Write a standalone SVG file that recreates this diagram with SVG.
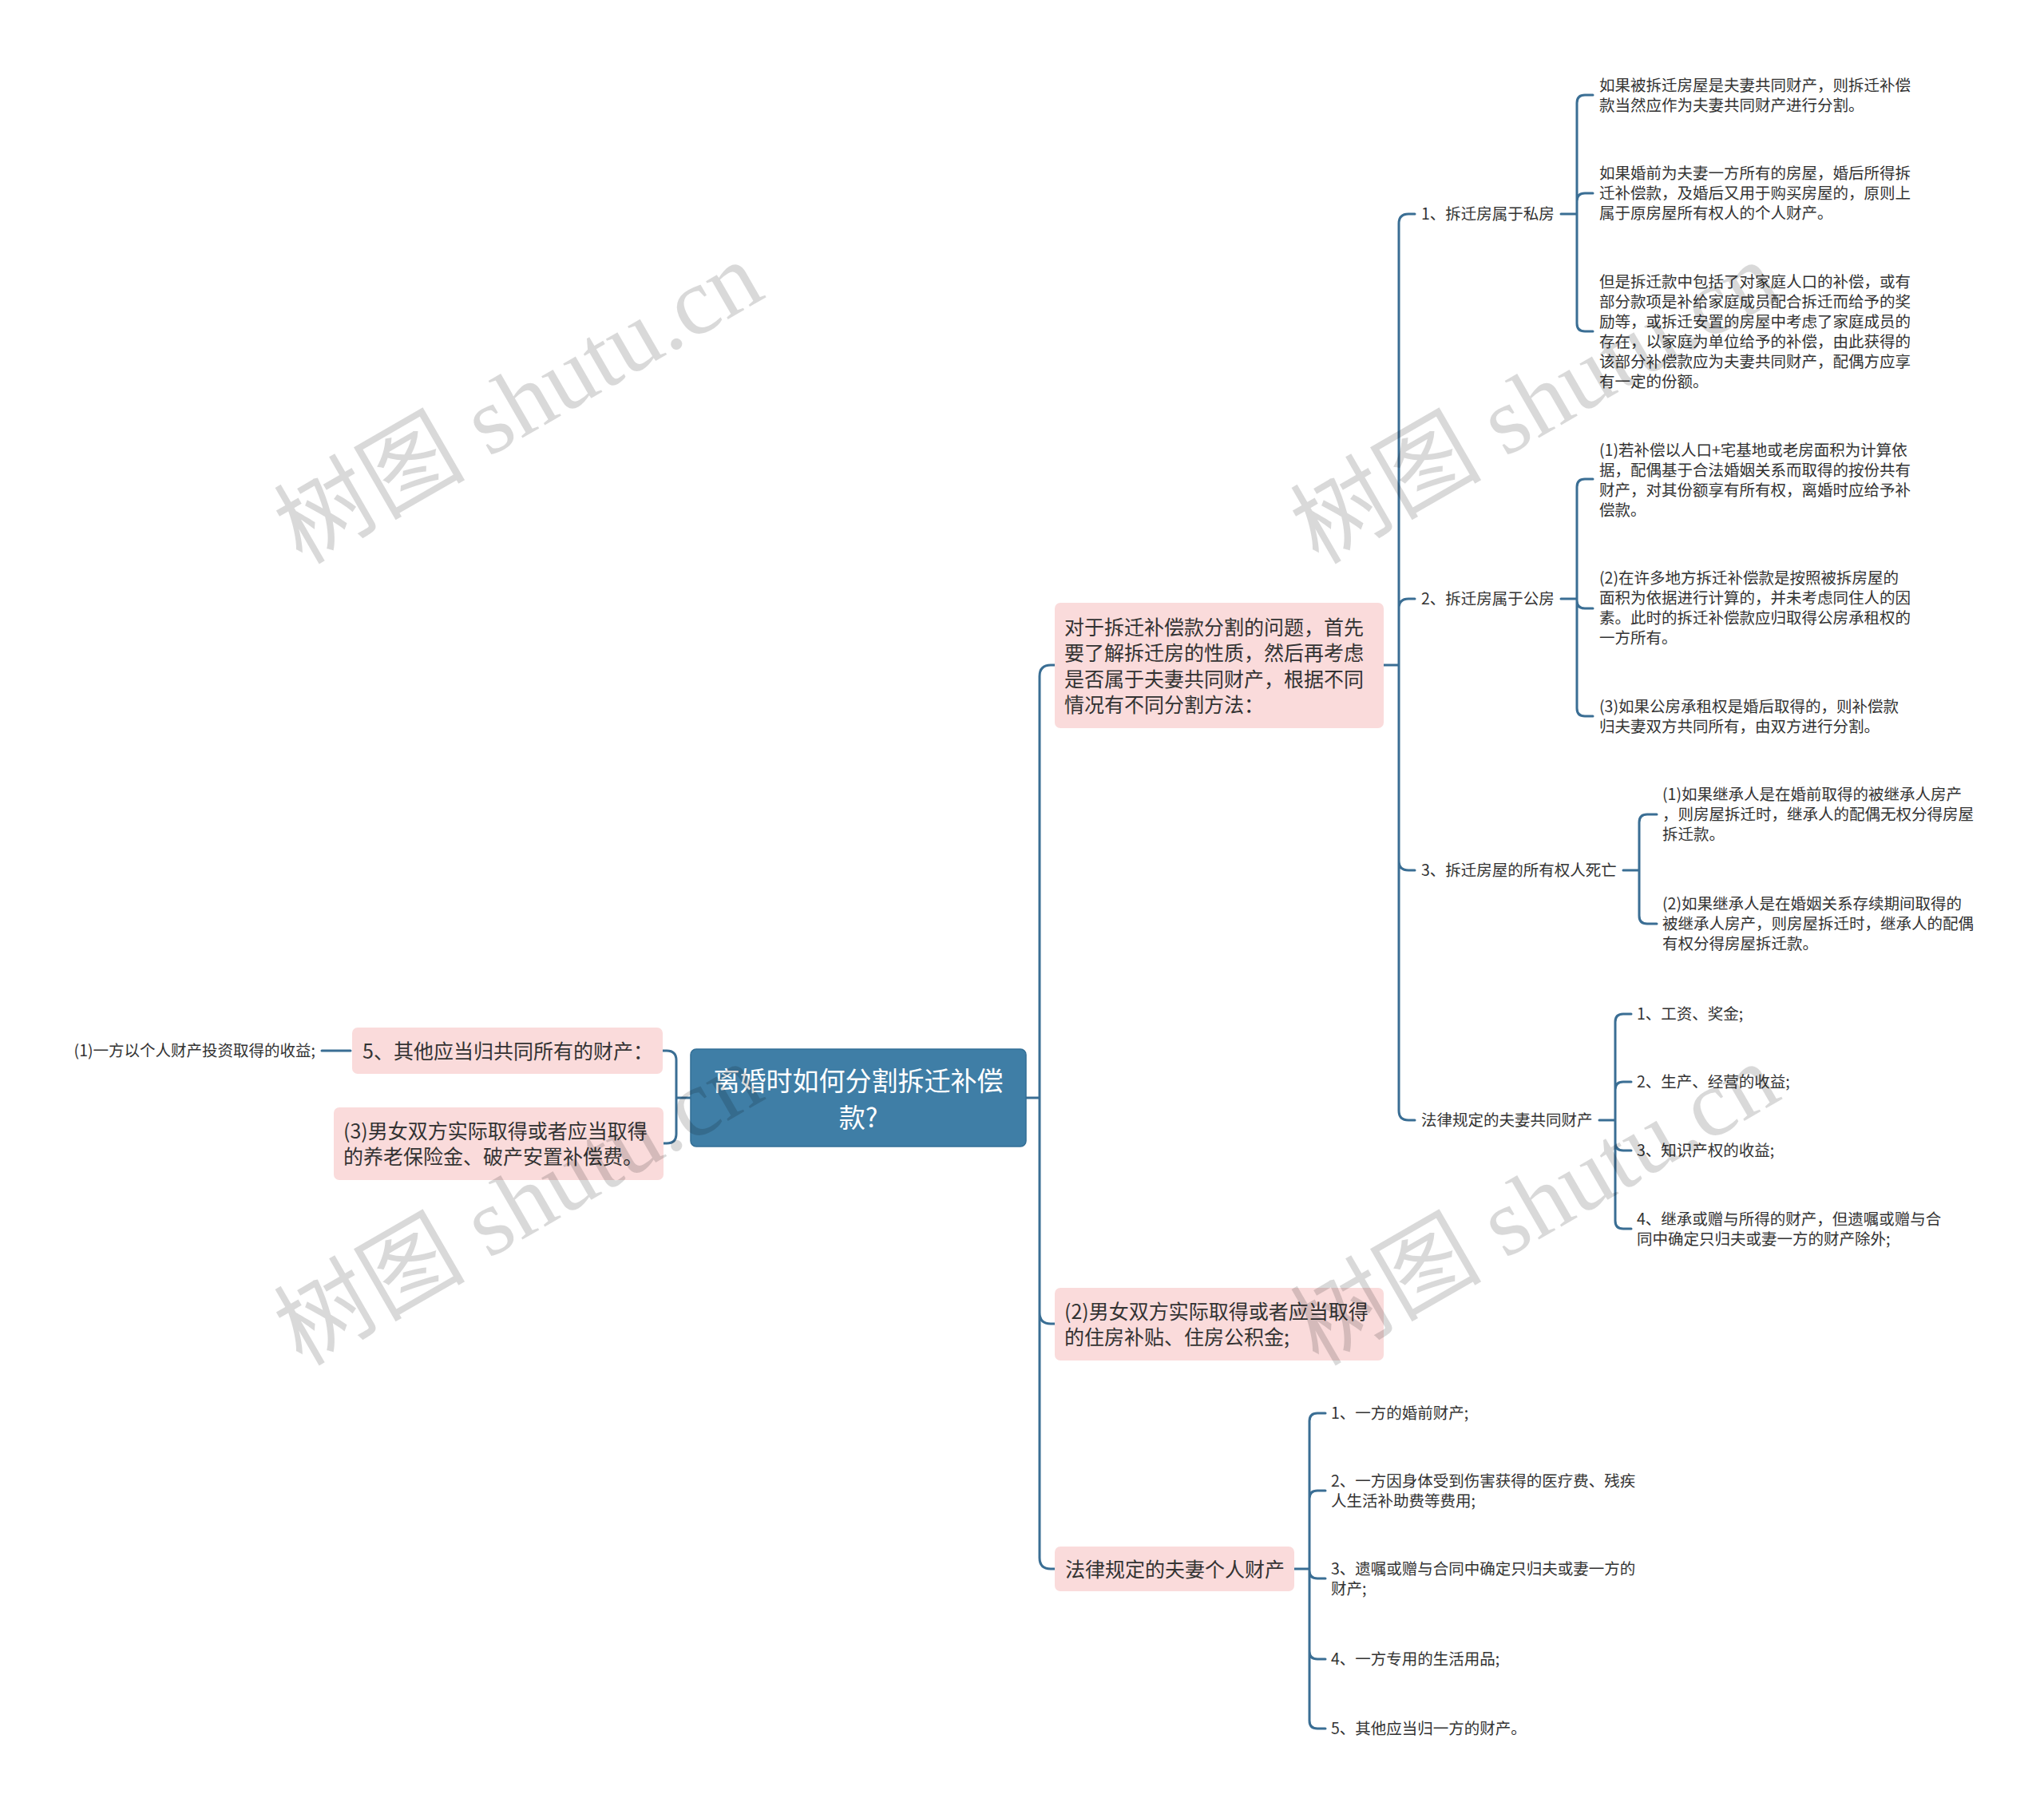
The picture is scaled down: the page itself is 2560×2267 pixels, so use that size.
<svg xmlns="http://www.w3.org/2000/svg" width="2560" height="2267" viewBox="0 0 2560 2267">
<defs>
<style>
.c{fill:none;stroke:#3a6e94;stroke-width:3;stroke-linecap:round}
.s{font-family:"Noto Sans CJK SC","Microsoft YaHei",sans-serif;font-size:19.5px;fill:#333}
.m{font-family:"Noto Sans CJK SC","Microsoft YaHei",sans-serif;font-size:25px;fill:#333}
.r{font-family:"Noto Sans CJK SC","Microsoft YaHei",sans-serif;font-size:33px;fill:#fff;text-anchor:middle}
.p{fill:#fadbdb}
.wm{font-family:"Liberation Serif","Noto Sans CJK SC",serif;font-size:120px;fill:#000;fill-opacity:0.15}
</style>
<text id="wmt" class="wm" x="0" y="0">树图 shutu.cn</text>
</defs>
<rect width="2560" height="2267" fill="#fff"/>
<g id="connectors">
<path class="c" d="M1285 1375H1302M1302 1375V847Q1302 833 1316 833H1321M1302 1375V1644Q1302 1658 1316 1658H1321M1302 1375V1951Q1302 1965 1316 1965H1321"/>
<path class="c" d="M865 1375H847M847 1375V1328Q847 1316 835 1316H830M847 1375V1420Q847 1432 835 1432H830M439 1316H403"/>
<path class="c" d="M1733 833H1752M1752 833V280Q1752 268 1764 268H1772M1752 833V762Q1752 750 1764 750H1772M1752 833V1078Q1752 1090 1764 1090H1772M1752 833V1391Q1752 1403 1764 1403H1772"/>
<path class="c" d="M1955 268H1975M1975 268V129Q1975 119 1985 119H1995M1975 268V252Q1975 242 1985 242H1995M1975 268V405Q1975 415 1985 415H1995"/>
<path class="c" d="M1955 750H1975M1975 750V610Q1975 600 1985 600H1995M1975 750V752Q1975 762 1985 762H1995M1975 750V887Q1975 897 1985 897H1995"/>
<path class="c" d="M2033 1090H2053M2053 1090V1030Q2053 1020 2063 1020H2075M2053 1090V1147Q2053 1157 2063 1157H2075"/>
<path class="c" d="M2003 1403H2023M2023 1403V1280Q2023 1270 2033 1270H2043M2023 1403V1365Q2023 1355 2033 1355H2043M2023 1403V1431Q2023 1441 2033 1441H2043M2023 1403V1529Q2023 1539 2033 1539H2043"/>
<path class="c" d="M1621 1965H1640M1640 1965V1780Q1640 1770 1650 1770H1660M1640 1965V1877Q1640 1867 1650 1867H1660M1640 1965V1967Q1640 1977 1650 1977H1660M1640 1965V2068Q1640 2078 1650 2078H1660M1640 1965V2155Q1640 2165 1650 2165H1660"/>
</g>
<g id="root">
<rect x="865" y="1314" width="420" height="122" rx="7" fill="#3f7ea6" stroke="#336f96" stroke-width="1.5"/>
<text class="r"><tspan x="1075" y="1365.5">离婚时如何分割拆迁补偿</tspan><tspan x="1075" y="1411.5">款?</tspan></text>
</g>
<g id="left1">
<rect class="p" x="441" y="1287" width="389" height="58" rx="7"/>
<text class="m" x="454" y="1325.5">5、其他应当归共同所有的财产：</text>
</g>
<g id="left1a">
<text class="s" x="395" y="1323" text-anchor="end">(1)一方以个人财产投资取得的收益;</text>
</g>
<g id="left2">
<rect class="p" x="418" y="1387" width="413" height="91" rx="7"/>
<text class="m"><tspan x="430" y="1425.75">(3)男女双方实际取得或者应当取得</tspan><tspan x="430" dy="32.5">的养老保险金、破产安置补偿费。</tspan></text>
</g>
<g id="nodeA">
<rect class="p" x="1321" y="755" width="412" height="157" rx="7"/>
<text class="m"><tspan x="1333" y="794.75">对于拆迁补偿款分割的问题，首先</tspan><tspan x="1333" dy="32.5">要了解拆迁房的性质，然后再考虑</tspan><tspan x="1333" dy="32.5">是否属于夫妻共同财产，根据不同</tspan><tspan x="1333" dy="32.5">情况有不同分割方法：</tspan></text>
</g>
<g id="nodeB">
<rect class="p" x="1321" y="1613" width="412" height="91" rx="7"/>
<text class="m"><tspan x="1333" y="1651.75">(2)男女双方实际取得或者应当取得</tspan><tspan x="1333" dy="32.5">的住房补贴、住房公积金;</tspan></text>
</g>
<g id="nodeC">
<rect class="p" x="1321" y="1937" width="300" height="56" rx="7"/>
<text class="m" x="1334" y="1974.5">法律规定的夫妻个人财产</text>
</g>
<g id="a1"><text class="s" x="1780" y="275">1、拆迁房属于私房</text></g>
<g id="a2"><text class="s" x="1780" y="757">2、拆迁房属于公房</text></g>
<g id="a3"><text class="s" x="1780" y="1097">3、拆迁房屋的所有权人死亡</text></g>
<g id="a4"><text class="s" x="1780" y="1410">法律规定的夫妻共同财产</text></g>
<g id="a1c1"><text class="s"><tspan x="2003" y="114">如果被拆迁房屋是夫妻共同财产，则拆迁补偿</tspan><tspan x="2003" dy="25">款当然应作为夫妻共同财产进行分割。</tspan></text></g>
<g id="a1c2"><text class="s"><tspan x="2003" y="224">如果婚前为夫妻一方所有的房屋，婚后所得拆</tspan><tspan x="2003" dy="25">迁补偿款，及婚后又用于购买房屋的，原则上</tspan><tspan x="2003" dy="25">属于原房屋所有权人的个人财产。</tspan></text></g>
<g id="a1c3"><text class="s"><tspan x="2003" y="360">但是拆迁款中包括了对家庭人口的补偿，或有</tspan><tspan x="2003" dy="25">部分款项是补给家庭成员配合拆迁而给予的奖</tspan><tspan x="2003" dy="25">励等，或拆迁安置的房屋中考虑了家庭成员的</tspan><tspan x="2003" dy="25">存在，以家庭为单位给予的补偿，由此获得的</tspan><tspan x="2003" dy="25">该部分补偿款应为夫妻共同财产，配偶方应享</tspan><tspan x="2003" dy="25">有一定的份额。</tspan></text></g>
<g id="a2c1"><text class="s"><tspan x="2003" y="571">(1)若补偿以人口+宅基地或老房面积为计算依</tspan><tspan x="2003" dy="25">据，配偶基于合法婚姻关系而取得的按份共有</tspan><tspan x="2003" dy="25">财产，对其份额享有所有权，离婚时应给予补</tspan><tspan x="2003" dy="25">偿款。</tspan></text></g>
<g id="a2c2"><text class="s"><tspan x="2003" y="731">(2)在许多地方拆迁补偿款是按照被拆房屋的</tspan><tspan x="2003" dy="25">面积为依据进行计算的，并未考虑同住人的因</tspan><tspan x="2003" dy="25">素。此时的拆迁补偿款应归取得公房承租权的</tspan><tspan x="2003" dy="25">一方所有。</tspan></text></g>
<g id="a2c3"><text class="s"><tspan x="2003" y="892">(3)如果公房承租权是婚后取得的，则补偿款</tspan><tspan x="2003" dy="25">归夫妻双方共同所有，由双方进行分割。</tspan></text></g>
<g id="a3c1"><text class="s"><tspan x="2082" y="1002">(1)如果继承人是在婚前取得的被继承人房产</tspan><tspan x="2082" dy="25">，则房屋拆迁时，继承人的配偶无权分得房屋</tspan><tspan x="2082" dy="25">拆迁款。</tspan></text></g>
<g id="a3c2"><text class="s"><tspan x="2082" y="1139">(2)如果继承人是在婚姻关系存续期间取得的</tspan><tspan x="2082" dy="25">被继承人房产，则房屋拆迁时，继承人的配偶</tspan><tspan x="2082" dy="25">有权分得房屋拆迁款。</tspan></text></g>
<g id="a4c1"><text class="s" x="2050" y="1277">1、工资、奖金;</text></g>
<g id="a4c2"><text class="s" x="2050" y="1362">2、生产、经营的收益;</text></g>
<g id="a4c3"><text class="s" x="2050" y="1448">3、知识产权的收益;</text></g>
<g id="a4c4"><text class="s"><tspan x="2050" y="1534">4、继承或赠与所得的财产，但遗嘱或赠与合</tspan><tspan x="2050" dy="25">同中确定只归夫或妻一方的财产除外;</tspan></text></g>
<g id="c1"><text class="s" x="1667" y="1777">1、一方的婚前财产;</text></g>
<g id="c2"><text class="s"><tspan x="1667" y="1862">2、一方因身体受到伤害获得的医疗费、残疾</tspan><tspan x="1667" dy="25">人生活补助费等费用;</tspan></text></g>
<g id="c3"><text class="s"><tspan x="1667" y="1972">3、遗嘱或赠与合同中确定只归夫或妻一方的</tspan><tspan x="1667" dy="25">财产;</tspan></text></g>
<g id="c4"><text class="s" x="1667" y="2085">4、一方专用的生活用品;</text></g>
<g id="c5"><text class="s" x="1667" y="2172">5、其他应当归一方的财产。</text></g>
<g id="watermarks">
<use href="#wmt" transform="translate(378 708) rotate(-30)"/>
<use href="#wmt" transform="translate(1651 708) rotate(-30)"/>
<use href="#wmt" transform="translate(378 1712) rotate(-30)"/>
<use href="#wmt" transform="translate(1651 1712) rotate(-30)"/>
</g>
</svg>
